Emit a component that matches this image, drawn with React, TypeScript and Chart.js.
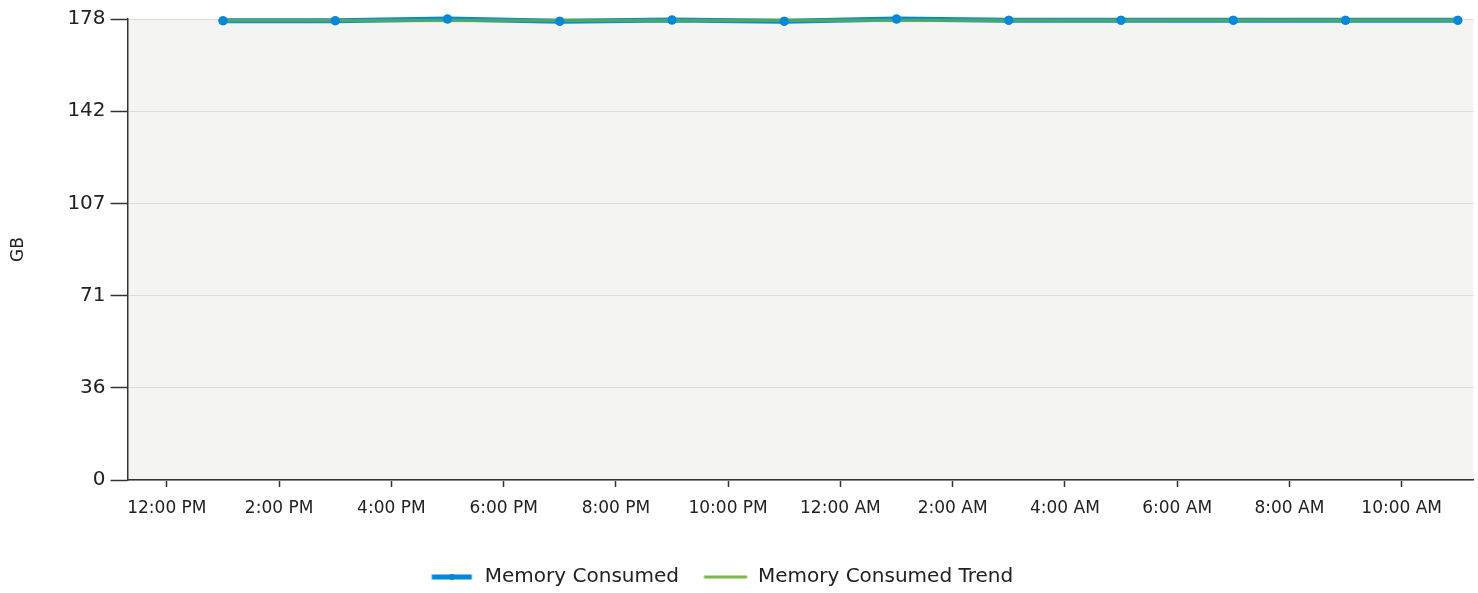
import React, { useEffect, useRef } from 'react';
import { Chart, registerables } from 'chart.js';

Chart.register(...registerables);

// ---- data ----
const hours = [13, 15, 17, 19, 21, 23, 25, 27, 29, 31, 33, 35];
const memoryConsumed = [177.44, 177.44, 178.1, 177.21, 177.71, 177.21, 178.1, 177.6, 177.6, 177.6, 177.6, 177.6];
const trendHours = [13, 35];
const trendValues = [177.48, 177.62];
const xTickHours = [12, 14, 16, 18, 20, 22, 24, 26, 28, 30, 32, 34];
const xTickLabels = ['12:00 PM', '2:00 PM', '4:00 PM', '6:00 PM', '8:00 PM', '10:00 PM', '12:00 AM', '2:00 AM', '4:00 AM', '6:00 AM', '8:00 AM', '10:00 AM'];
const yMax = 178.1;
const yTickLabels = ['0', '36', '71', '107', '142', '178'];
const xMin = 11.3;
const xMax = 35.28;
const seriesNames = ['Memory Consumed', 'Memory Consumed Trend'];

const BLUE = '#0088d6';
const GREEN = '#7ab648';
const TEXT = '#222222';
const FONT = "'DejaVu Sans', sans-serif";

function makeLegendImage(color: string, lineWidth: number, start: number, end: number, dot: boolean) {
  const c = document.createElement('canvas');
  const half = 45;
  c.width = half * 2;
  c.height = 12;
  const ctx = c.getContext('2d')!;
  ctx.strokeStyle = color;
  ctx.lineWidth = lineWidth;
  ctx.beginPath();
  ctx.moveTo(half + start, 6);
  ctx.lineTo(half + end, 6);
  ctx.stroke();
  if (dot) {
    ctx.fillStyle = color;
    ctx.beginPath();
    ctx.arc(half + (start + end) / 2, 6, 3, 0, Math.PI * 2);
    ctx.fill();
  }
  return c;
}

export default function App() {
  const ref = useRef<HTMLCanvasElement | null>(null);

  useEffect(() => {
    document.body.style.margin = '0';
    const canvas = ref.current!;
    const legendImages = [
      makeLegendImage(BLUE, 5, -11.5, 28.5, true),
      makeLegendImage(GREEN, 3, -12.5, 30.5, false),
    ];

    const plotBg = {
      id: 'plotBg',
      beforeDraw(chart: any) {
        const { ctx, chartArea } = chart;
        ctx.save();
        ctx.fillStyle = '#f4f4f3';
        ctx.fillRect(chartArea.left, chartArea.top, chartArea.right - chartArea.left, chartArea.bottom - chartArea.top);
        ctx.restore();
      },
    };
    const pointsOnTop = {
      id: 'pointsOnTop',
      afterDatasetsDraw(chart: any) {
        const meta = chart.getDatasetMeta(0);
        meta.data.forEach((p: any) => p.draw(chart.ctx, chart.chartArea));
      },
    };
    const legendShift = {
      id: 'legendShift',
      afterLayout(chart: any) {
        if (chart.legend) {
          chart.legend.left -= 25;
          chart.legend.right -= 25;
        }
      },
    };

    const chart = new Chart(canvas, {
      type: 'line',
      data: {
        datasets: [
          {
            label: seriesNames[0],
            data: hours.map((h, i) => ({ x: h, y: memoryConsumed[i] })),
            borderColor: BLUE,
            backgroundColor: BLUE,
            borderWidth: 5,
            pointRadius: 4.5,
            pointBorderWidth: 0,
            pointBackgroundColor: BLUE,
            tension: 0,
            clip: false as any,
            order: 2,
          },
          {
            label: seriesNames[1],
            data: trendHours.map((h, i) => ({ x: h, y: trendValues[i] })),
            borderColor: 'rgba(110,180,60,0.68)',
            backgroundColor: GREEN,
            borderWidth: 3.5,
            pointRadius: 0,
            tension: 0,
            clip: false as any,
            order: 1,
          },
        ],
      },
      options: {
        animation: false,
        responsive: false,
        layout: { padding: { top: 19, right: 3, left: 0, bottom: -4 } },
        plugins: {
          tooltip: { enabled: false },
          legend: {
            position: 'bottom',
            labels: {
              usePointStyle: true,
              pointStyleWidth: 63,
              padding: 6,
              color: TEXT,
              font: { family: FONT, size: 20 },
              sort: (a: any, b: any) => a.datasetIndex - b.datasetIndex,
              generateLabels: (c: any) => {
                const items = (Chart.defaults.plugins.legend.labels as any).generateLabels(c);
                return items.map((it: any) => ({ ...it, pointStyle: legendImages[it.datasetIndex] }));
              },
            },
          },
        },
        scales: {
          x: {
            type: 'linear',
            min: xMin,
            max: xMax,
            afterBuildTicks: (scale: any) => {
              scale.ticks = xTickHours.map((v) => ({ value: v }));
            },
            afterFit: (scale: any) => {
              scale.height = 81;
            },
            ticks: {
              callback: (_v: any, i: number) => xTickLabels[i],
              color: TEXT,
              font: { family: FONT, size: 17 },
              padding: 11,
              maxRotation: 0,
              autoSkip: false,
            },
            grid: {
              drawOnChartArea: false,
              drawTicks: true,
              tickLength: 7,
              tickColor: '#333333',
              tickWidth: 1.5,
            },
            border: { display: true, color: '#333333', width: 1.5 },
          },
          y: {
            type: 'linear',
            min: 0,
            max: yMax,
            afterBuildTicks: (scale: any) => {
              scale.ticks = yTickLabels.map((_, i) => ({ value: (yMax * i) / (yTickLabels.length - 1) }));
            },
            ticks: {
              callback: (_v: any, i: number) => yTickLabels[i],
              color: TEXT,
              font: { family: FONT, size: 20 },
              padding: 5,
              autoSkip: false,
            },
            grid: {
              color: '#dcdcdc',
              lineWidth: 1,
              drawTicks: true,
              tickLength: 17,
              tickColor: '#333333',
              tickWidth: 1.5,
            },
            border: { display: true, color: '#333333', width: 1.5 },
            title: {
              display: true,
              text: 'GB',
              color: TEXT,
              font: { family: FONT, size: 17 },
              padding: { top: 8, bottom: 34 },
            },
          },
        },
      },
      plugins: [plotBg, pointsOnTop, legendShift],
    } as any);

    return () => chart.destroy();
  }, []);

  return (
    <div style={{ width: 1478, height: 593 }}>
      <canvas ref={ref} width={1478} height={593} style={{ display: 'block' }} />
    </div>
  );
}
